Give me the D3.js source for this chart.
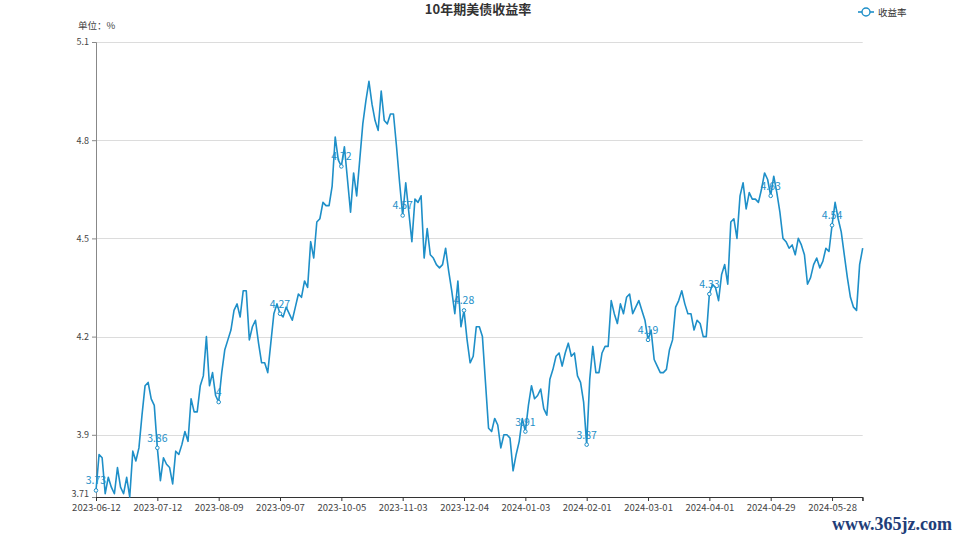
<!DOCTYPE html>
<html>
<head>
<meta charset="utf-8">
<script src="https://cdn.jsdelivr.net/npm/d3@7"></script>
<style>
  html, body { margin: 0; padding: 0; background: #fff; }
  svg { display: block; }
</style>
</head>
<body>
<div id="chart"></div>
<script>
// ---- data ----
const values = [
  3.73,3.84,3.83,3.72,3.77,3.74,3.72,3.80,3.74,3.72,3.77,3.71,3.85,3.82,3.86,3.96,4.05,4.06,4.01,3.99,
  3.86,3.76,3.83,3.81,3.80,3.75,3.85,3.84,3.87,3.91,3.88,4.01,3.97,3.97,4.05,4.08,4.20,4.05,4.09,4.02,
  4.00,4.09,4.16,4.19,4.22,4.28,4.30,4.26,4.34,4.34,4.19,4.23,4.25,4.18,4.12,4.12,4.09,4.18,4.27,4.30,
  4.27,4.26,4.29,4.27,4.25,4.29,4.33,4.32,4.37,4.35,4.49,4.44,4.55,4.56,4.61,4.60,4.60,4.66,4.81,4.74,
  4.72,4.78,4.68,4.58,4.70,4.63,4.74,4.85,4.92,4.98,4.91,4.86,4.83,4.95,4.86,4.85,4.88,4.88,4.78,4.67,
  4.57,4.67,4.58,4.49,4.62,4.61,4.63,4.44,4.53,4.45,4.44,4.42,4.41,4.42,4.47,4.40,4.34,4.27,4.37,4.23,
  4.28,4.19,4.12,4.14,4.23,4.23,4.20,4.06,3.92,3.91,3.95,3.93,3.86,3.90,3.90,3.89,3.79,3.84,3.88,3.95,
  3.91,3.99,4.05,4.01,4.02,4.04,3.98,3.96,4.07,4.10,4.14,4.15,4.11,4.15,4.18,4.14,4.15,4.08,4.06,4.00,
  3.87,4.07,4.17,4.09,4.09,4.15,4.17,4.17,4.31,4.27,4.24,4.30,4.27,4.32,4.33,4.27,4.29,4.31,4.28,4.25,
  4.19,4.22,4.13,4.11,4.09,4.09,4.10,4.16,4.19,4.29,4.31,4.34,4.30,4.27,4.27,4.22,4.25,4.24,4.20,4.20,
  4.33,4.36,4.35,4.31,4.39,4.42,4.36,4.55,4.56,4.50,4.63,4.67,4.59,4.64,4.62,4.62,4.61,4.65,4.70,4.68,
  4.63,4.69,4.64,4.58,4.50,4.49,4.47,4.48,4.45,4.50,4.48,4.45,4.36,4.38,4.42,4.44,4.41,4.43,4.47,4.46,
  4.54,4.61,4.56,4.52,4.45,4.38,4.32,4.29,4.28,4.42,4.47
];
const tickLabels = ["2023-06-12","2023-07-12","2023-08-09","2023-09-07","2023-10-05","2023-11-03",
  "2023-12-04","2024-01-03","2024-02-01","2024-03-01","2024-04-01","2024-04-29","2024-05-28"];
const labelEvery = 20;
const yTicks = [3.71, 3.9, 4.2, 4.5, 4.8, 5.1];
const yMin = 3.71, yMax = 5.1;
const titleText = "10年期美债收益率";
const unitText = "单位：%";
const seriesName = "收益率";
const watermark = "www.365jz.com";

(function () {
// ---- layout ----
const W = 959, H = 539;
const pL = 96, pR = 862.7, pT = 42, pB = 497;
const color = "#1e8fc8";
const font = "'Noto Sans CJK SC', 'Noto Sans', sans-serif";

const svg = d3.select("#chart").append("svg").attr("width", W).attr("height", H)
  .style("font-family", font);

const idx = d3.range(values.length);
const x = d3.scalePoint().domain(idx).range([pL, pR]);
const y = d3.scaleLinear().domain([yMin, yMax]).range([pB, pT]);

// grid
svg.append("g").selectAll("line").data(yTicks.filter(t => t > yMin)).join("line")
  .attr("x1", pL).attr("x2", pR)
  .attr("y1", d => Math.round(y(d)) + 0.5).attr("y2", d => Math.round(y(d)) + 0.5)
  .attr("stroke", "#dcdcdc").attr("stroke-width", 1);

// y axis
const yAxis = d3.axisLeft(y).tickValues(yTicks).tickSize(4).tickPadding(3)
  .tickFormat(d => String(d));
const gy = svg.append("g").attr("transform", `translate(${pL},0)`).call(yAxis);
gy.select(".domain").attr("stroke", "#888");
gy.selectAll(".tick line").attr("stroke", "#888");
gy.selectAll("text").attr("fill", "#444").style("font-size", "9px").style("font-family", font);
// lift the bottom label slightly so it clears the date labels
gy.selectAll(".tick text").filter(d => d === yMin).attr("dy", "-0.05em");

// x axis
const tickIdx = tickLabels.map((_, i) => i * labelEvery);
const xAxis = d3.axisBottom(x).tickValues(tickIdx).tickSize(4).tickPadding(3)
  .tickFormat(d => tickLabels[d / labelEvery]);
const gx = svg.append("g").attr("transform", `translate(0,${pB})`).call(xAxis);
gx.select(".domain").attr("stroke", "#333");
gx.selectAll(".tick line").attr("stroke", "#333");
gx.selectAll("text").attr("fill", "#444").style("font-size", "9.5px").style("font-family", font);
gx.append("line").attr("x1", pR).attr("x2", pR).attr("y1", 0).attr("y2", 4).attr("stroke", "#333");

// line
const line = d3.line().x((d, i) => x(i)).y(d => y(d));
svg.append("path").datum(values).attr("d", line)
  .attr("fill", "none").attr("stroke", color).attr("stroke-width", 1.6)
  .attr("stroke-linejoin", "round");

// markers + labels
const marked = idx.filter(i => i % labelEvery === 0);
svg.append("g").selectAll("circle").data(marked).join("circle")
  .attr("cx", i => x(i)).attr("cy", i => y(values[i])).attr("r", 1.8)
  .attr("fill", "#fff").attr("stroke", color).attr("stroke-width", 1);
svg.append("g").selectAll("text").data(marked).join("text")
  .attr("x", i => x(i)).attr("y", i => y(values[i]) - 6)
  .attr("text-anchor", "middle").attr("fill", color)
  .style("font-size", "10.5px")
  .text(i => String(+values[i].toFixed(2)));

// title
svg.append("text").attr("x", 478).attr("y", 14).attr("text-anchor", "middle")
  .attr("fill", "#333").style("font-size", "13px").style("font-weight", "bold").text(titleText);
svg.append("text").attr("x", 78).attr("y", 29).attr("fill", "#444")
  .style("font-size", "9.5px").text(unitText);

// legend
const lg = svg.append("g").attr("transform", "translate(858,12)");
lg.append("line").attr("x1", 0).attr("x2", 16).attr("y1", 0).attr("y2", 0)
  .attr("stroke", color).attr("stroke-width", 1.6);
lg.append("circle").attr("cx", 8).attr("cy", 0).attr("r", 4)
  .attr("fill", "#fff").attr("stroke", color).attr("stroke-width", 1.4);
lg.append("text").attr("x", 20).attr("y", 3.5).attr("fill", "#333")
  .style("font-size", "9.5px").text(seriesName);

// watermark
svg.append("text").attr("x", 952).attr("y", 530).attr("text-anchor", "end")
  .attr("fill", "#213d78").style("font-family", "'Liberation Serif', serif")
  .style("font-weight", "bold").style("font-size", "18px").text(watermark);
})();
</script>
</body>
</html>
